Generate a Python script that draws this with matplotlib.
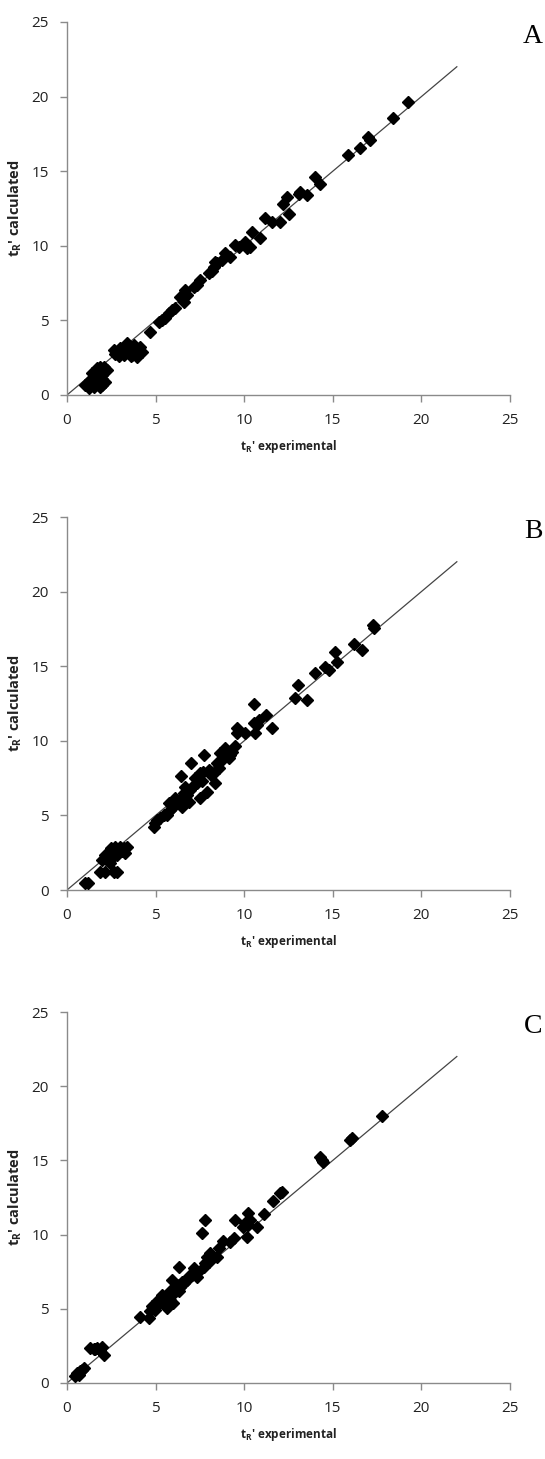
import matplotlib
matplotlib.use("Agg")
import matplotlib.pyplot as plt

# Panel A data
a_x = [19.27, 18.42, 17.01, 17.1, 16.54, 15.83, 14.0, 14.29, 13.53, 13.16, 13.1,
       12.4, 12.5, 12.2, 12.03, 11.56, 11.18, 10.9, 10.43, 10.06, 10.15, 10.34,
       9.68, 9.49, 9.21, 8.93, 8.74, 8.46, 8.27, 8.36, 8.18, 7.99, 7.52, 7.33,
       7.14, 6.77, 6.58, 6.39, 6.67, 6.11, 5.92, 5.73, 5.55, 5.36, 5.17, 4.7,
       2.63, 2.82, 3.0, 3.2, 3.38, 3.57, 3.67, 3.76, 3.85, 3.95, 4.14, 4.23, 3.38,
       3.1, 2.72, 3.76, 3.5, 3.9, 3.3, 3.6, 4.05, 2.95, 3.45,
       1.03, 1.22, 1.5, 1.6, 1.69, 1.79, 1.88, 1.97, 2.07, 2.16, 2.26, 1.41, 1.88,
       1.22, 1.6, 1.75, 1.95, 1.5, 2.0, 1.3, 1.85]
a_y = [19.64, 18.59, 17.3, 17.08, 16.56, 16.07, 14.62, 14.17, 13.39, 13.6, 13.45,
       13.28, 12.16, 12.79, 11.6, 11.6, 11.83, 10.49, 10.94, 10.27, 9.82, 9.93,
       9.93, 10.04, 9.26, 9.49, 9.04, 8.82, 8.59, 8.93, 8.33, 8.15, 7.7, 7.37,
       7.25, 6.7, 6.25, 6.58, 7.03, 5.8, 5.69, 5.47, 5.13, 5.02, 4.91, 4.24,
       3.0, 2.79, 3.13, 2.68, 3.0, 3.24, 2.68, 3.35, 2.9, 2.57, 3.24, 2.9, 3.46,
       2.9, 2.75, 3.0, 2.8, 3.1, 2.9, 2.6, 3.05, 2.6, 3.2,
       0.67, 0.78, 0.56, 1.45, 1.79, 1.0, 0.56, 1.34, 1.9, 0.89, 1.67, 1.45, 1.9,
       0.45, 0.89, 1.2, 1.1, 1.15, 0.7, 1.0, 1.55]

# Panel B data
b_x = [17.29, 17.3, 16.64, 16.17, 15.23, 15.13, 14.76, 14.57, 14.0, 13.53, 13.03,
       12.88, 11.56, 11.24, 10.81, 10.71, 10.62, 10.53, 10.53, 10.06, 9.62, 9.59,
       9.49, 9.21, 9.12, 9.3, 8.93, 8.83, 8.65, 8.74, 8.55, 8.46, 8.36, 8.27,
       7.99, 7.89, 7.74, 7.67, 7.52, 7.42, 7.33, 7.48, 7.24, 6.99, 6.95, 6.86,
       6.77, 6.67, 6.43, 6.48, 6.3, 6.11, 6.02, 5.83, 5.73, 5.64, 5.45, 5.26,
       5.08, 4.89, 4.98, 7.1, 7.6, 8.1, 6.6, 5.95,
       1.88, 2.16, 2.82, 2.63, 1.97, 2.16, 2.35, 2.44, 2.63, 2.73, 2.91, 3.0, 3.2,
       3.29, 3.38, 2.54, 2.26, 2.82, 3.1, 2.5,
       1.03, 1.17]
b_y = [17.75, 17.55, 16.07, 16.52, 15.29, 15.92, 14.73, 14.96, 14.55, 12.72, 13.73,
       12.9, 10.83, 11.76, 11.38, 11.05, 10.49, 11.16, 12.5, 10.49, 10.83, 10.49,
       9.64, 9.04, 8.82, 9.26, 9.49, 8.93, 9.15, 8.71, 8.15, 8.48, 7.14, 7.81,
       8.04, 6.58, 9.04, 7.92, 7.81, 7.59, 7.14, 6.14, 7.48, 8.48, 6.7, 5.92,
       6.36, 6.92, 7.63, 5.58, 6.03, 6.14, 5.69, 5.36, 5.8, 5.02, 5.02, 4.8,
       4.69, 4.24, 4.46, 7.0, 7.3, 7.7, 6.5, 5.5,
       1.23, 1.23, 1.23, 1.23, 2.0, 2.34, 2.23, 1.79, 2.68, 2.9, 2.57, 2.9, 2.79,
       2.46, 2.9, 2.12, 2.0, 2.34, 2.6, 2.8,
       0.45, 0.49]

# Panel C data
c_x = [17.76, 15.98, 16.07, 14.29, 14.38, 14.47, 12.12, 12.03, 11.65, 11.09, 10.75,
       10.24, 10.34, 10.24, 10.15, 10.06, 9.96, 9.49, 9.4, 9.21, 8.83, 8.55, 8.46,
       7.8, 7.61, 8.08, 7.89, 7.99, 7.8, 7.71, 7.42, 7.33, 7.14, 7.05, 6.77, 6.58,
       6.39, 6.3, 6.3, 5.92, 6.11, 6.02, 5.83, 5.73, 5.55, 5.45, 5.26, 5.08, 4.98,
       4.79, 4.7, 4.61, 4.14, 5.64, 5.83, 6.2, 6.5, 6.9, 5.35, 5.1, 6.0,
       1.32, 1.5, 1.69, 1.88, 1.97, 1.6, 2.07,
       0.94, 0.85, 0.75, 0.56, 0.47, 0.66]
c_y = [18.0, 16.37, 16.48, 15.25, 15.02, 14.91, 12.9, 12.78, 12.26, 11.39, 10.49,
       11.48, 10.99, 10.65, 9.87, 10.76, 10.49, 10.99, 9.75, 9.53, 9.6, 9.08, 8.52,
       10.99, 10.13, 8.74, 8.52, 8.18, 8.07, 7.85, 7.51, 7.17, 7.74, 7.29, 6.95, 6.73,
       6.5, 6.17, 7.85, 6.95, 6.39, 6.05, 6.17, 5.83, 5.72, 5.38, 5.49, 5.27, 4.93,
       5.16, 4.82, 4.37, 4.42, 5.04, 5.6, 6.6, 6.8, 7.2, 5.9, 5.5, 5.4,
       2.35, 2.28, 2.35, 2.24, 2.4, 2.3, 1.9,
       1.0, 0.9, 0.78, 0.67, 0.45, 0.56]

line_x = [0, 22]
line_y = [0, 22]
ticks = [0, 5, 10, 15, 20, 25]
panel_letters = ["A", "B", "C"]

fig = plt.figure(figsize=(5.45, 14.59), dpi=100)
W, H = 545, 1459
boxes = [(67, 22, 510, 395), (67, 517, 510, 890), (67, 1012, 510, 1383)]
datasets = [(a_x, a_y), (b_x, b_y), (c_x, c_y)]
spine_col = "#8a8a8a"

for (l, t, r, b), (xs, ys), letter in zip(boxes, datasets, panel_letters):
    ax = fig.add_axes([l / W, 1 - b / H, (r - l) / W, (b - t) / H])
    ax.plot(line_x, line_y, color="#444444", lw=0.9, zorder=2)
    ax.plot(xs, ys, linestyle="none", marker="D", markersize=5.8,
            color="black", zorder=3, clip_on=False)
    ax.set_xlim(0, 25)
    ax.set_ylim(0, 25)
    ax.set_xticks(ticks)
    ax.set_yticks(ticks)
    for s in ["top", "right"]:
        ax.spines[s].set_visible(False)
    for s in ["left", "bottom"]:
        ax.spines[s].set_color(spine_col)
        ax.spines[s].set_linewidth(1.0)
    ax.tick_params(direction="out", length=5, width=1.0, color=spine_col,
                   labelsize=11, labelcolor="#222222", pad=8)
    for lab in ax.get_xticklabels() + ax.get_yticklabels():
        lab.set_fontfamily("Open Sans")
    ax.set_xlabel("t$_{\\mathregular{R}}$' experimental", fontsize=8.5,
                  fontweight="bold", family="Open Sans", color="#222222")
    ax.xaxis.set_label_coords(0.5, -0.115)
    ax.set_ylabel("t$_{\\mathregular{R}}$' calculated", fontsize=10.5,
                  fontweight="bold", family="Open Sans", color="#222222")
    ax.yaxis.set_label_coords(-0.097, 0.5)
    ax.text(1.052, 0.96, letter, transform=ax.transAxes, fontsize=20,
            family="Liberation Serif", ha="center", va="center")

fig.savefig("out.png", dpi=100)
